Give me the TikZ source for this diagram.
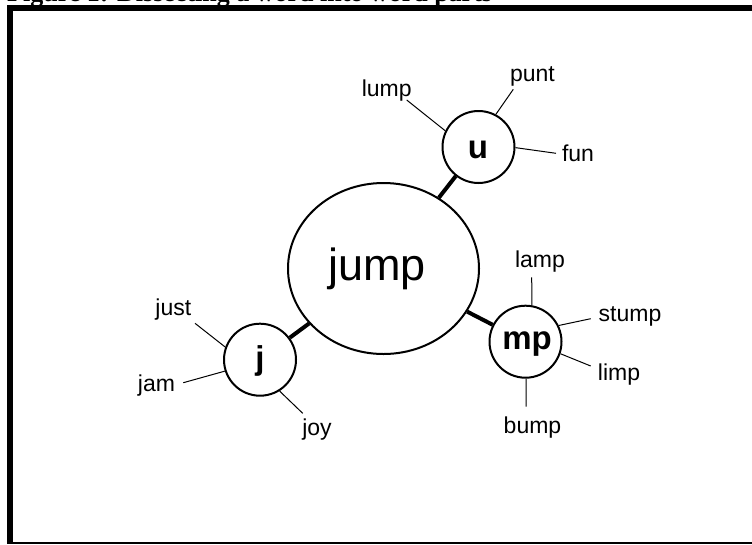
\documentclass[tikz,border=0pt]{standalone}
\usepackage{fontspec}
\setmainfont{Liberation Sans}
\newfontfamily\capfont{Liberation Serif}
\usetikzlibrary{shapes.geometric}
\tikzset{
  hub/.style={circle, draw, line width=2pt, minimum size=72pt, inner sep=0pt},
  hubtext/.style={font=\fontsize{33}{36}\selectfont\bfseries, inner sep=0pt, anchor=base},
  leaf/.style={font=\fontsize{23}{26}\selectfont, inner sep=0pt, anchor=base},
  thin/.style={line width=1pt},
  thick link/.style={line width=4pt},
}
\begin{document}
\begin{tikzpicture}[x=1pt,y=-1pt]
\clip (0,0) rectangle (752,544);
\fill[white] (0,0) rectangle (752,544);
% caption (cut off at the top)
\node[font=\capfont\bfseries\fontsize{26}{30}\selectfont, inner sep=0pt, anchor=base west] (cap) at (7,1) {Figure 1: Dissecting a word into word parts};
% frame
\fill[black] (6.7,5) rectangle (752,11);
\fill[black] (6.7,5) rectangle (12.7,544);
\fill[black] (6.7,542.3) rectangle (752,543.8);
% main ellipse
\node[ellipse, draw, line width=2pt, minimum width=191pt, minimum height=171pt, inner sep=0pt] (jump) at (383.5,268.5) {};
\node[font=\fontsize{45}{50}\selectfont, inner sep=0pt, anchor=base] (jumpt) at (377,280) {jump};
% hubs
\node[hub] (u) at (478.5,147) {};
\node[hubtext] (ut) at (478,158.3) {u};
\node[hub] (mp) at (525.5,341.7) {};
\node[hubtext] (mpt) at (527,349.3) {mp};
\node[hub] (j) at (260,359.7) {};
\node[hubtext] (jt) at (260,369.5) {j};
% thick links
\draw[thick link] (jump) -- (u);
\draw[thick link] (jump) -- (mp);
\draw[thick link] (jump) -- (j);
% leaves of u
\node[leaf] (lump) at (386.7,96.7) {lump};
\node[leaf] (punt) at (532.5,81.7) {punt};
\node[leaf] (fun) at (578,161) {fun};
\coordinate (c-lump) at (406.7,100);
\coordinate (c-punt) at (513.3,89.3);
\coordinate (c-fun) at (556,153.3);
\draw[thin] (u.154.6) -- (c-lump);
\draw[thin] (u.62.7) -- (c-punt);
\draw[thin] (u.-1) -- (c-fun);
% leaves of j
\node[leaf] (just) at (173.3,315) {just};
\node[leaf] (jam) at (156.5,391.7) {jam};
\node[leaf] (joy) at (317,435) {joy};
\coordinate (c-just) at (195,323.3);
\coordinate (c-jam) at (183.3,382.7);
\coordinate (c-joy) at (302.7,413.3);
\draw[thin] (j.160.5) -- (c-just);
\draw[thin] (j.198.8) -- (c-jam);
\draw[thin] (j.-58) -- (c-joy);
% leaves of mp
\node[leaf] (lamp) at (540,267.3) {lamp};
\node[leaf] (stump) at (630,321.7) {stump};
\node[leaf] (limp) at (619,380) {limp};
\node[leaf] (bump) at (532.5,433.3) {bump};
\coordinate (c-lamp) at (531.7,277.3);
\coordinate (c-stump) at (590.7,318.7);
\coordinate (c-limp) at (590.7,366);
\coordinate (c-bump) at (526,406.7);
\draw[thin] (mp.80) -- (c-lamp);
\draw[thin] (mp.26.5) -- (c-stump);
\draw[thin] (mp.-19.5) -- (c-limp);
\draw[thin] (mp.-89) -- (c-bump);
\end{tikzpicture}
\end{document}
